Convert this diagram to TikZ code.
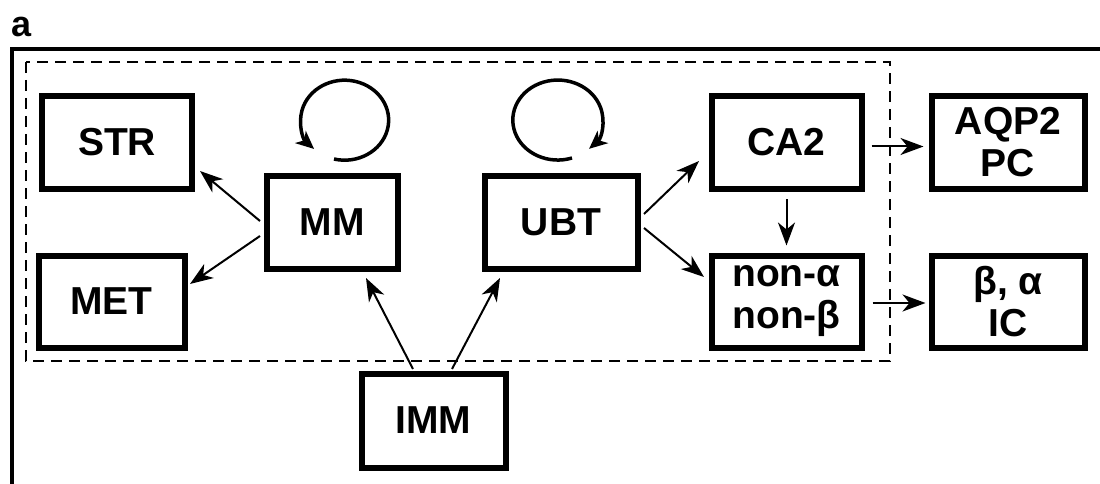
\documentclass[tikz,border=0pt]{standalone}
\usepackage{fontspec}
\setmainfont{Liberation Sans}
\usetikzlibrary{arrows.meta,calc}
\begin{document}
\begin{tikzpicture}[x=1pt,y=-1pt,
  box/.style={draw,line width=6pt,inner sep=0pt,font=\fontsize{39}{42}\selectfont\bfseries,align=center},
  conn/.style={line width=2pt,-{Stealth[length=23pt,width=17pt,inset=7pt]}},
  loopc/.style={line width=3.5pt,-{Stealth[length=18pt,width=16pt,inset=5pt]}},
  frame/.style={line width=3.5pt},
  group/.style={line width=2.2pt,dash pattern=on 11pt off 7pt}]
\useasboundingbox (0,0) rectangle (1100,484);
\node[anchor=west,font=\fontsize{36}{38}\selectfont\bfseries,inner sep=0pt] (lbl) at (11,27) {a};
\draw[frame] (12,484) -- (12,49) -- (1100,49);
\draw[group] (26,62) rectangle (890,361);
\node[box,minimum width=150pt,minimum height=93pt] (str) at (117,142.5) {STR};
\node[box,minimum width=146pt,minimum height=92pt] (met) at (111.5,301.5) {MET};
\node[box,minimum width=131pt,minimum height=93pt] (mm) at (332,222.5) {MM};
\node[box,minimum width=153pt,minimum height=93pt] (ubt) at (561,222.5) {UBT};
\node[box,minimum width=150pt,minimum height=93pt] (ca2) at (786.5,142.5) {CA2};
\node[box,minimum width=150pt,minimum height=92pt] (non) at (786.5,301.5) {non-α\\non-β};
\node[box,minimum width=153pt,minimum height=93pt] (aqp) at (1008,142.5) {AQP2\\PC};
\node[box,minimum width=153pt,minimum height=92pt] (ba) at (1008,301.5) {β, α\\IC};
\node[box,minimum width=144pt,minimum height=94pt] (imm) at (433.5,420.5) {IMM};
% connectors
\coordinate (mmA) at (260,221);
\coordinate (mmB) at (260,236);
\coordinate (strT) at (200,171);
\coordinate (metT) at (190,284);
\draw[conn] (mmA) -- (strT);
\draw[conn] (mmB) -- (metT);
\coordinate (immA) at (413,369);
\coordinate (immB) at (452,369);
\coordinate (mmT) at (366,278);
\coordinate (ubtT) at (500,278);
\draw[conn] (immA) -- (mmT);
\draw[conn] (immB) -- (ubtT);
\coordinate (ubtA) at (644,214);
\coordinate (ubtB) at (644,228);
\coordinate (ca2T) at (699,161);
\coordinate (nonT) at (704,277);
\draw[conn] (ubtA) -- (ca2T);
\draw[conn] (ubtB) -- (nonT);
\draw[conn] ($(ca2.south)+(0,7)$) -- ($(non.north)+(0,-7)$);
\draw[conn] ($(ca2.east)+(7,4)$) -- ($(aqp.west)+(-5,4)$);
\draw[conn] ($(non.east)+(8,1.5)$) -- ($(ba.west)+(-3,1.5)$);
% self loops
\draw[loopc] (334,159) arc[start angle=104,end angle=-226,x radius=44,y radius=40];
\draw[loopc] (572,158) arc[start angle=71.6,end angle=406,x radius=45,y radius=40];
\end{tikzpicture}
\end{document}
